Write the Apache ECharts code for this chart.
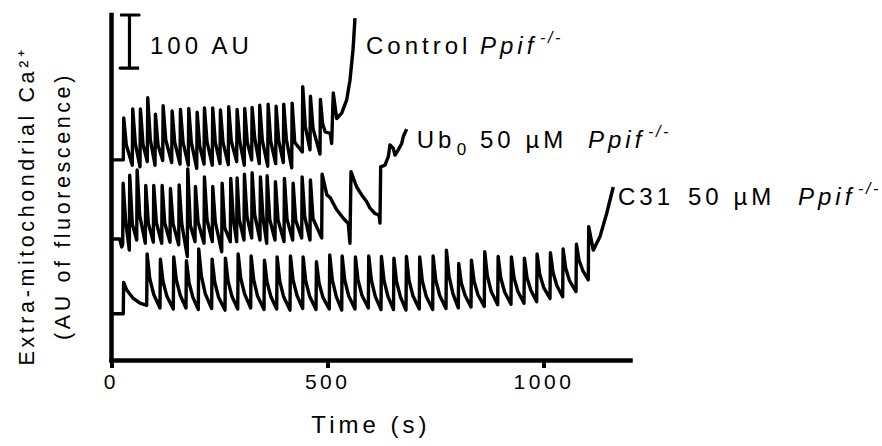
<!DOCTYPE html>
<html><head><meta charset="utf-8">
<script src="https://cdn.jsdelivr.net/npm/echarts@6/dist/echarts.min.js"></script>
<style>
html,body{margin:0;padding:0;background:#fff;}
#c{width:882px;height:446px;}
#c text{letter-spacing:0.167em;}
</style></head><body><div id="c"></div>
<script>
// time (s) vs fluorescence (AU), traces stacked with their own baselines
const controlTrace = [
[0,377],[27.5,377],[28.5,456],[34.5,405],
[48.3,367],[49.3,473],[55.3,408],
[66.1,364],[67.1,473],[73.1,406],
[83,374],[84,494],[90,415],
[100.8,367],[101.8,463],[107.8,405],
[118.6,376],[119.6,479],[125.6,415],
[139.4,372],[140.4,469],[146.4,410],
[158.6,369],[159.6,472],[165.6,410],
[177.8,367],[178.8,474],[184.8,410],
[197.2,361],[198.2,467],[204.2,403],
[214.1,369],[215.1,475],[221.1,411],
[233.2,367],[234.2,475],[240.2,410],
[251,370],[252,471],[258,410],
[270.2,368],[271.2,477],[277.2,412],
[289.6,374],[290.6,472],[296.6,413],
[307.2,367],[308.2,474],[314.2,410],
[324.3,377],[325.3,476],[331.3,418],
[341.9,370],[342.9,480],[348.9,414],
[361.3,365],[362.3,482],[368.3,412],
[379.8,370],[380.8,478],[386.8,413],
[397.4,372],[398.4,482],[404.4,416],
[416.8,362],[417.8,484],[423.8,410],
[441.3,392],[442.3,515],[448.3,440],
[459.1,396],[460.1,497],[466.1,436],
[482.2,388],[483.2,491],[488.2,445],[494.2,430],[505.8,427],
[509.2,408],[512.9,503],[520.8,455],[532.4,465],[543.9,490],[551.5,527],[558.5,584],[563.1,644]
];
const ub0Trace = [
[0,228],[19,228],[24,213],[26.1,218],[27.1,333],[33.1,260],
[41.4,207],[42.4,348],[48.4,256],
[58.5,226],[59.5,358],[65.5,272],
[78.4,220],[79.4,329],[85.4,258],
[96.9,222],[97.9,329],[103.9,259],
[116.3,220],[117.3,329],[123.3,258],
[135.5,222],[136.5,323],[142.5,257],
[155.6,217],[156.6,330],[162.6,257],
[175.5,195],[176.5,360],[182.5,254],
[193.3,223],[194.3,327],[200.3,260],
[214.1,220],[215.1,345],[221.1,264],
[233.2,223],[234.2,327],[240.2,260],
[255,204],[256,333],[262,249],
[274.9,223],[275.9,342],[281.9,265],
[289.6,223],[290.6,343],[295.6,265],
[306.5,226],[307.5,350],[313.5,270],
[324.3,230],[325.3,353],[331.3,274],
[343.5,226],[344.5,345],[350.5,268],
[359,220],[360,347],[366,265],
[378.2,226],[379.2,336],[385.2,264],
[399,223],[400,342],[406,265],
[419.1,226],[420.1,333],[426.1,263],
[439.9,230],[440.9,345],[446.9,270],
[459.1,226],[460.1,339],[466.1,266],
[486.1,230],[487.1,350],[498.1,311],[505.8,306],[512.2,296],[520.8,283],[536.1,267],[547.6,257],
[551.5,220],[553.9,355],[567,326],[578.6,311],[590.2,298],[597.8,286],[609.3,276],[618.6,273],
[620.9,258],[622.5,364],[632.5,367],[640.1,383],[644,405],[651.6,399],[655.6,386],[663.2,396],
[671.1,408],[674.8,421],[682.6,435]
];
const c31Trace = [
[0,87],[27.5,87],[28.2,146],[35.4,132],[50.6,116],[66.1,107],
[81.6,103],[82.6,200],[88.6,154],[97.6,124],
[112.3,98],[113.3,190],[119.3,148],[128.3,120],
[143.1,96],[144.1,194],[150.1,151],[159.1,122],
[172.4,98],[173.4,187],[179.4,146],[188.4,118],
[200.9,95],[201.9,209],[207.9,159],[216.9,125],
[231.8,97],[232.8,190],[238.8,147],[247.8,118],
[262.6,94],[263.6,192],[269.6,149],[278.6,120],
[292,96],[293,200],[299,154],[308,124],
[322,98],[323,196],[329,151],[338,120],
[352.8,95],[353.8,188],[359.8,147],[368.8,119],
[382.1,96],[383.1,194],[389.1,149],[398.1,119],
[412.9,94],[413.9,196],[419.9,151],[428.9,122],
[442.2,97],[443.2,194],[449.2,149],[458.2,120],
[473,95],[474,185],[480,145],[489,118],
[503.7,96],[504.7,198],[510.7,151],[519.7,120],
[532.4,94],[533.4,196],[539.4,151],[548.4,121],
[563.1,96],[564.1,194],[570.1,151],[579.1,122],
[593.9,98],[594.9,196],[600.9,151],[609.9,120],
[623.2,95],[624.2,195],[630.2,150],[639.2,120],
[652.1,95],[653.1,192],[659.1,148],[668.1,119],
[681,94],[682,195],[688,150],[697,121],
[711.7,96],[712.7,194],[718.7,149],[727.7,120],
[742.7,95],[743.7,196],[749.7,151],[758.7,122],
[773.5,97],[774.5,207],[780.5,158],[789.5,125],
[801.9,98],[802.9,182],[808.9,145],[817.9,121],
[831.3,100],[832.3,188],[838.3,149],[847.3,123],
[862,101],[863,204],[869,159],[878,129],
[893,104],[894,195],[900,155],[909,128],
[923.7,105],[924.7,194],[930.7,155],[939.7,129],
[953.8,107],[954.8,192],[960.8,155],[969.8,131],
[983.1,110],[984.1,200],[990.1,162],[999.1,137],
[1013.9,116],[1014.9,202],[1020.9,165],[1029.9,140],
[1043.2,119],[1044.2,209],[1050.2,173],[1059.2,149],
[1074,129],[1075,218],[1081,188],[1090,168],
[1102.4,151],[1103.4,251],[1114,207],[1129.3,232],[1144.9,276],[1160.2,326]
];
// 100 AU scale bar (time, AU)
const scaleBar = [[20,650],[64,650],[41.8,650],[41.8,550],[20,550],[64,550]];
const xTickValues = [0, 500, 1000];

const FONT = '"Liberation Sans", Arial, sans-serif';
const chart = echarts.init(document.getElementById('c'), null, {renderer: 'svg', width: 882, height: 446});

function txt(x, y, text, size, italic) {
  return {
    type: 'text', x: x, y: y, silent: true,
    style: {
      text: text, fill: '#000', align: 'left', verticalAlign: 'middle',
      font: (italic ? 'italic ' : '') + size + 'px ' + FONT
    }
  };
}

function lineSeries(name, data, w) {
  return {
    name: name, type: 'line', data: data, symbol: 'none', silent: true,
    lineStyle: {color: '#000', width: w || 3.4, join: 'round'},
    itemStyle: {color: '#000'}, animation: false, clip: false
  };
}

chart.setOption({
  animation: false,
  backgroundColor: '#fff',
  textStyle: {fontFamily: FONT, color: '#000'},
  grid: {left: 111.4, top: 15, width: 519.1, height: 345, containLabel: false},
  xAxis: {
    type: 'value', min: 0, max: 1200, interval: 500,
    axisLine: {lineStyle: {color: '#000', width: 4.5, cap: 'square'}},
    axisTick: {show: true, customValues: xTickValues, length: 8, lineStyle: {color: '#000', width: 4}},
    axisLabel: {customValues: xTickValues, fontSize: 21, color: '#000', margin: 11, fontFamily: FONT,
      formatter: function (v) { return String(v); }},
    splitLine: {show: false},
    name: 'Time (s)', nameLocation: 'middle', nameGap: 52,
    nameTextStyle: {fontSize: 24, color: '#000', fontFamily: FONT}
  },
  yAxis: {
    type: 'value', min: 0, max: 650,
    axisLine: {show: true, lineStyle: {color: '#000', width: 4.5, cap: 'square'}},
    axisTick: {show: false}, axisLabel: {show: false}, splitLine: {show: false}
  },
  series: [
    lineSeries('Control', controlTrace),
    lineSeries('Ub0', ub0Trace),
    lineSeries('C31', c31Trace),
    lineSeries('scale', scaleBar, 3.2)
  ],
  graphic: [
    txt(150, 45, '100 AU', 24),
    txt(366, 45, 'Control', 24),
    txt(480, 45, 'Ppif', 24, true),
    txt(540, 37, '-/-', 16, true),
    txt(416.7, 139, 'Ub', 24),
    txt(456.7, 149, '0', 17),
    txt(480, 139, '50 µM', 24),
    txt(588, 139, 'Ppif', 24, true),
    txt(648, 131, '-/-', 16, true),
    txt(618, 196.5, 'C31', 24),
    txt(688, 196.5, '50 µM', 24),
    txt(798, 196.5, 'Ppif', 24, true),
    txt(858, 188, '-/-', 16, true),
    {
      type: 'text', x: 45, y: 206, rotation: Math.PI / 2, silent: true,
      style: {
        text: 'Extra-mitochondrial Ca²⁺\n(AU of fluorescence)',
        fill: '#000', align: 'center', verticalAlign: 'middle',
        font: '21.5px ' + FONT, lineHeight: 36
      }
    }
  ]
});
</script></body></html>
